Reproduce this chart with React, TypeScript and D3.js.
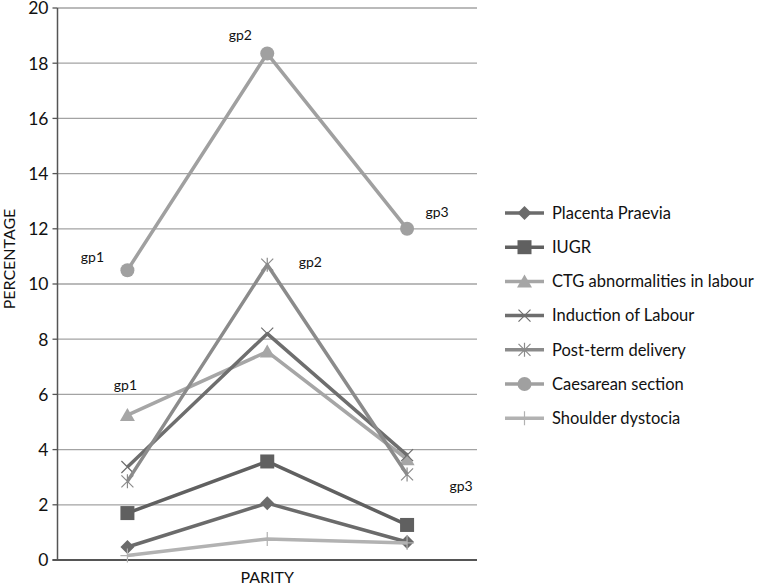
import React from "react";
import * as d3 from "d3";

const groups = ["gp1", "gp2", "gp3"];
const seriesNames = [
  "Placenta Praevia",
  "IUGR",
  "CTG abnormalities in labour",
  "Induction of Labour",
  "Post-term delivery",
  "Caesarean section",
  "Shoulder dystocia",
];
const placentaPraevia = [0.47, 2.06, 0.65];
const iugr = [1.7, 3.57, 1.27];
const ctg = [5.25, 7.55, 3.65];
const induction = [3.37, 8.2, 3.8];
const postTerm = [2.85, 10.7, 3.1];
const caesarean = [10.5, 18.35, 12.0];
const shoulder = [0.16, 0.76, 0.62];
const yTicks = [0, 2, 4, 6, 8, 10, 12, 14, 16, 18, 20];
const groupLabels = [
  { text: "gp1", series: 5, gi: 0 },
  { text: "gp2", series: 5, gi: 1 },
  { text: "gp3", series: 5, gi: 2 },
  { text: "gp1", series: 2, gi: 0 },
  { text: "gp2", series: 4, gi: 1 },
  { text: "gp3", series: 6, gi: 2 },
];

const seriesValues = [placentaPraevia, iugr, ctg, induction, postTerm, caesarean, shoulder];
const colors = ["#6b6b6b", "#606060", "#a6a6a6", "#6e6e6e", "#8b8b8b", "#a0a0a0", "#b2b2b2"];
const markers = ["diamond", "square", "triangle", "x", "star", "circle", "plus"];
const labelOffsets = [
  [-35, -13],
  [-27, -18],
  [30, -17],
  [-2, -30],
  [43, -3],
  [54, -57],
];

const FONT = "Lato, 'Open Sans', 'Liberation Sans', sans-serif";

function Marker({ type, x, y, color }: { type: string; x: number; y: number; color: string }) {
  switch (type) {
    case "diamond":
      return <path d={`M${x},${y - 7}L${x + 7},${y}L${x},${y + 7}L${x - 7},${y}Z`} fill={color} />;
    case "square":
      return <rect x={x - 7} y={y - 7} width={14} height={14} fill={color} />;
    case "triangle":
      return <path d={`M${x},${y - 7}L${x + 7.5},${y + 6}L${x - 7.5},${y + 6}Z`} fill={color} />;
    case "circle":
      return <circle cx={x} cy={y} r={7} fill={color} />;
    case "x":
      return (
        <path d={`M${x - 6},${y - 6}L${x + 6},${y + 6}M${x - 6},${y + 6}L${x + 6},${y - 6}`} stroke={color} strokeWidth={1.2} />
      );
    case "star":
      return (
        <path
          d={`M${x - 6},${y - 6}L${x + 6},${y + 6}M${x - 6},${y + 6}L${x + 6},${y - 6}M${x},${y - 7}L${x},${y + 7}`}
          stroke={color}
          strokeWidth={1.2}
        />
      );
    case "plus":
      return <path d={`M${x},${y - 7}L${x},${y + 7}M${x - 7},${y}L${x + 7},${y}`} stroke={color} strokeWidth={1.2} />;
    default:
      return null;
  }
}

export default function App() {
  const width = 767;
  const height = 585;
  const left = 57.5;
  const right = 477;
  const top = 8;
  const bottom = 560;

  const x = d3.scaleBand<string>().domain(groups).range([left, right]);
  const y = d3.scaleLinear().domain([0, 20]).range([bottom, top]);
  const cx = (g: string) => (x(g) as number) + x.bandwidth() / 2;
  const line = d3
    .line<number>()
    .x((_, i) => cx(groups[i]))
    .y((d) => y(d));

  const legendX = 505;
  const legendY0 = 213;
  const legendStep = 34.2;

  return (
    <svg width={width} height={height} style={{ position: "absolute", left: 0, top: 0 }} fontFamily={FONT}>
      <rect width={width} height={height} fill="#fff" />
      {yTicks.map((t) => (
        <g key={t}>
          {t > 0 && <line x1={left} x2={right} y1={y(t)} y2={y(t)} stroke="#a3a3a3" strokeWidth={1.3} />}
          <line x1={left - 5} x2={left} y1={y(t)} y2={y(t)} stroke="#555" strokeWidth={1.3} />
          <text x={left - 9} y={y(t)} dy="0.36em" textAnchor="end" fontSize={17.5} fill="#111">
            {t}
          </text>
        </g>
      ))}
      <line x1={left} x2={left} y1={top} y2={bottom} stroke="#555" strokeWidth={1.5} />
      <line x1={left - 5} x2={right} y1={bottom} y2={bottom} stroke="#555" strokeWidth={2.2} />

      {seriesValues.map((vals, si) => (
        <g key={si}>
          <path d={line(vals) || ""} fill="none" stroke={colors[si]} strokeWidth={3.5} strokeLinejoin="round" />
          {vals.map((v, i) => (
            <Marker key={i} type={markers[si]} x={cx(groups[i])} y={y(v)} color={colors[si]} />
          ))}
        </g>
      ))}

      {groupLabels.map((l, i) => (
        <text
          key={i}
          x={cx(groups[l.gi]) + labelOffsets[i][0]}
          y={y(seriesValues[l.series][l.gi]) + labelOffsets[i][1]}
          dy="0.35em"
          textAnchor="middle"
          fontSize={14}
          fill="#111"
        >
          {l.text}
        </text>
      ))}

      <text x={(left + right) / 2} y={583} textAnchor="middle" fontSize={16} fill="#111">
        PARITY
      </text>
      <text transform={`translate(15,259) rotate(-90)`} textAnchor="middle" fontSize={16} fill="#111">
        PERCENTAGE
      </text>

      {seriesNames.map((name, i) => {
        const ly = legendY0 + i * legendStep;
        return (
          <g key={name}>
            <line x1={legendX} x2={legendX + 39} y1={ly} y2={ly} stroke={colors[i]} strokeWidth={3.5} />
            <Marker type={markers[i]} x={legendX + 19.5} y={ly} color={colors[i]} />
            <text x={legendX + 47} y={ly} dy="0.35em" fontSize={16.5} fill="#111">
              {name}
            </text>
          </g>
        );
      })}
    </svg>
  );
}
